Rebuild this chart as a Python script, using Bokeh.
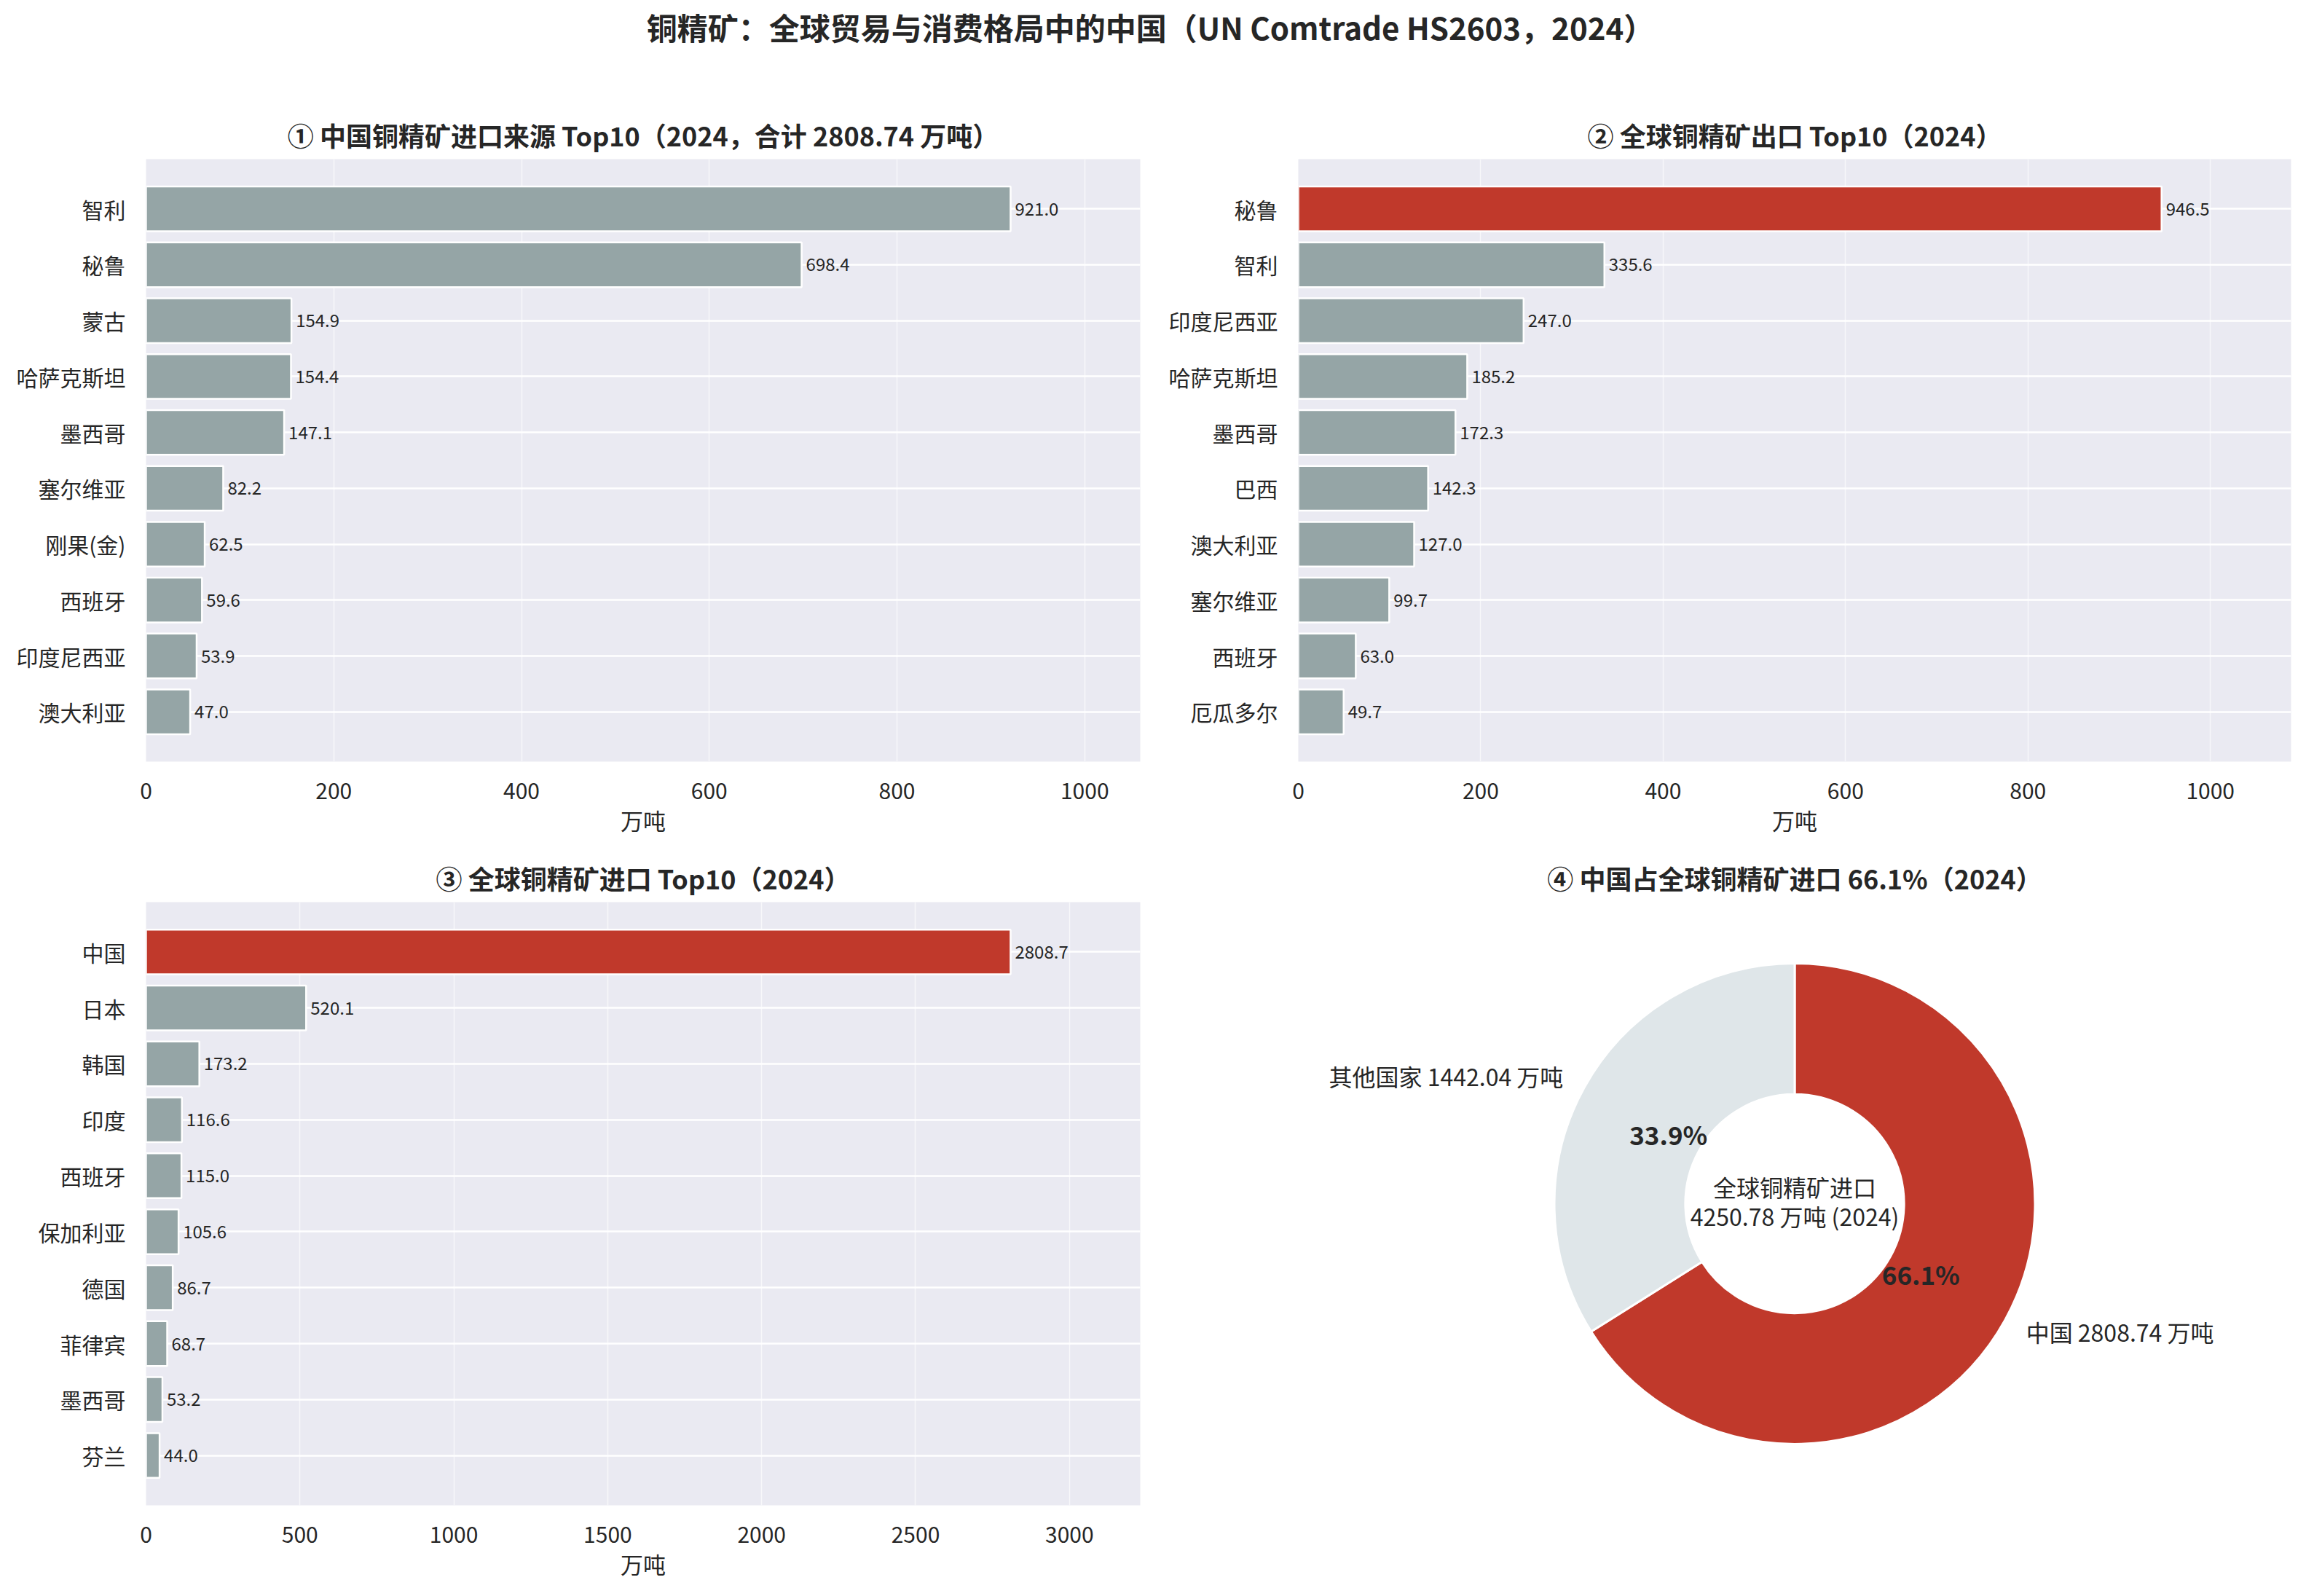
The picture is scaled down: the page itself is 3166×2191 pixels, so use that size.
import math

from bokeh.core.properties import value
from bokeh.embed import file_html
from bokeh.layouts import column, row
from bokeh.models import ColumnDataSource, FactorRange, Range1d, SingleIntervalTicker
from bokeh.plotting import figure
from bokeh.resources import INLINE

FONT = "Noto Sans CJK SC"
GRAY = "#95A5A6"
RED = "#C0392B"
LIGHT = "#DFE6E9"
BG = "#EAEAF2"
INK = "#262626"

main_title = "铜精矿：全球贸易与消费格局中的中国（UN Comtrade HS2603，2024）"

# ① China import sources
src_names = ["智利", "秘鲁", "蒙古", "哈萨克斯坦", "墨西哥", "塞尔维亚", "刚果(金)", "西班牙", "印度尼西亚", "澳大利亚"]
src_values = [921.0, 698.4, 154.9, 154.4, 147.1, 82.2, 62.5, 59.6, 53.9, 47.0]
src_total = 2808.74

# ② global exporters
exp_names = ["秘鲁", "智利", "印度尼西亚", "哈萨克斯坦", "墨西哥", "巴西", "澳大利亚", "塞尔维亚", "西班牙", "厄瓜多尔"]
exp_values = [946.5, 335.6, 247.0, 185.2, 172.3, 142.3, 127.0, 99.7, 63.0, 49.7]

# ③ global importers
imp_names = ["中国", "日本", "韩国", "印度", "西班牙", "保加利亚", "德国", "菲律宾", "墨西哥", "芬兰"]
imp_values = [2808.7, 520.1, 173.2, 116.6, 115.0, 105.6, 86.7, 68.7, 53.2, 44.0]

# ④ share of global imports
share_names = ["中国", "其他国家"]
share_values = [2808.74, 1442.04]


def style_title(p, size="36px"):
    p.title.text_font = FONT
    p.title.text_font_size = size
    p.title.text_font_style = "bold"
    p.title.text_color = INK
    p.title.align = "center"
    p.title.standoff = 16


def bar_panel(title, names, values, highlight, step, size, borders):
    left, right, top, bottom = borders
    src = ColumnDataSource(dict(
        name=names,
        value=values,
        label=[f"{v:.1f}" for v in values],
        color=[RED if n == highlight else GRAY for n in names],
    ))
    p = figure(
        title=title,
        width=size[0], height=size[1],
        y_range=FactorRange(factors=names[::-1], range_padding=0.39, range_padding_units="absolute"),
        x_range=Range1d(0, max(values) * 1.15),
        toolbar_location=None, tools="",
        output_backend="svg",
        min_border_left=left, min_border_right=right,
        min_border_top=top, min_border_bottom=bottom,
        x_axis_label="万吨",
    )
    style_title(p)
    p.background_fill_color = BG
    p.outline_line_color = None
    p.hbar(y="name", right="value", left=0, height=0.8, source=src,
           fill_color="color", line_color="white", line_width=2.5)
    p.text(x="value", y="name", text="label", source=src, x_offset=6,
           text_baseline="middle", text_align="left", text_font=value(FONT),
           text_font_size="24px", text_color=INK)

    p.xaxis.ticker = SingleIntervalTicker(interval=step)
    for ax in (p.xaxis, p.yaxis):
        ax.axis_line_color = None
        ax.major_tick_line_color = None
        ax.minor_tick_line_color = None
        ax.major_label_text_font = FONT
        ax.major_label_text_font_size = "30px"
        ax.major_label_text_color = INK
    p.yaxis.major_tick_out = 0
    p.yaxis.major_label_standoff = 28
    p.xaxis.major_tick_out = 0
    p.xaxis.major_label_standoff = 25
    p.xaxis.axis_label_text_font = FONT
    p.xaxis.axis_label_text_font_size = "31px"
    p.xaxis.axis_label_text_font_style = "normal"
    p.xaxis.axis_label_text_color = INK
    p.xaxis.axis_label_standoff = 3

    p.ygrid.grid_line_color = "white"
    p.ygrid.grid_line_width = 2.5
    p.xgrid.grid_line_color = "white"
    p.xgrid.grid_line_alpha = 0.6
    p.xgrid.grid_line_width = 1.5
    return p


# title strip
pt = figure(width=3158, height=76, x_range=Range1d(0, 1), y_range=Range1d(0, 1),
            toolbar_location=None, tools="", output_backend="svg",
            min_border=0, outline_line_color=None)
pt.axis.visible = False
pt.grid.visible = False
pt.text(x=[0.5], y=[0.526], text=[main_title], text_align="center", text_baseline="middle",
        text_font=value(FONT), text_font_size="42px", text_font_style="bold", text_color=INK)

p1 = bar_panel(f"① 中国铜精矿进口来源 Top10（2024，合计 {src_total:.2f} 万吨）",
               src_names, src_values, None, 200, (1583, 1074), (200, 18, 142, 105))
p2 = bar_panel("② 全球铜精矿出口 Top10（2024）",
               exp_names, exp_values, "秘鲁", 200, (1575, 1074), (199, 13, 142, 105))
p3 = bar_panel("③ 全球铜精矿进口 Top10（2024）",
               imp_names, imp_values, "中国", 500, (1583, 1033), (200, 18, 88, 117))

# ④ donut
total = sum(share_values)
share_pct = [v / total * 100 for v in share_values]
R = 330.0
fw, fh = 1363, 828
p4 = figure(
    title=f"④ 中国占全球铜精矿进口 {share_pct[0]:.1f}%（2024）",
    width=1575, height=1033,
    x_range=Range1d(-fw / 2 / R, fw / 2 / R), y_range=Range1d(-fh / 2 / R, fh / 2 / R),
    toolbar_location=None, tools="", output_backend="svg",
    min_border_left=199, min_border_right=13, min_border_top=88, min_border_bottom=117,
)
style_title(p4)
p4.axis.visible = False
p4.grid.visible = False
p4.outline_line_color = None

starts, ends, mids = [], [], []
a = math.pi / 2
for v in share_values:
    sweep = v / total * 2 * math.pi
    starts.append(a - sweep)
    ends.append(a)
    mids.append(a - sweep / 2)
    a -= sweep

pie = ColumnDataSource(dict(
    start=starts, end=ends,
    color=[RED, LIGHT],
))
p4.annular_wedge(x=0, y=0, inner_radius=0.455, outer_radius=1.0,
                 start_angle="start", end_angle="end", source=pie,
                 fill_color="color", line_color="white", line_width=3)

for name, v, pct, m in zip(share_names, share_values, share_pct, mids):
    lx, ly = 1.1 * math.cos(m), 1.1 * math.sin(m)
    p4.text(x=[lx], y=[ly], text=[f"{name} {v:.2f} 万吨"],
            text_align="left" if lx > 0 else "right", text_baseline="middle",
            text_font=value(FONT), text_font_size="32px", text_color=INK)
    px, py = 0.6 * math.cos(m), 0.6 * math.sin(m)
    p4.text(x=[px], y=[py], text=[f"{pct:.1f}%"], text_align="center", text_baseline="middle",
            text_font=value(FONT), text_font_size="35px", text_font_style="bold", text_color=INK)

p4.text(x=[0], y=[0], text=["全球铜精矿进口"], y_offset=-24, text_align="center",
        text_baseline="middle", text_font=value(FONT), text_font_size="32px", text_color=INK)
p4.text(x=[0], y=[0], text=[f"{total:.2f} 万吨 (2024)"], y_offset=16, text_align="center",
        text_baseline="middle", text_font=value(FONT), text_font_size="32px", text_color=INK)

layout = column(pt, row(p1, p2), row(p3, p4))
open("out.html", "w").write(file_html(layout, INLINE))
